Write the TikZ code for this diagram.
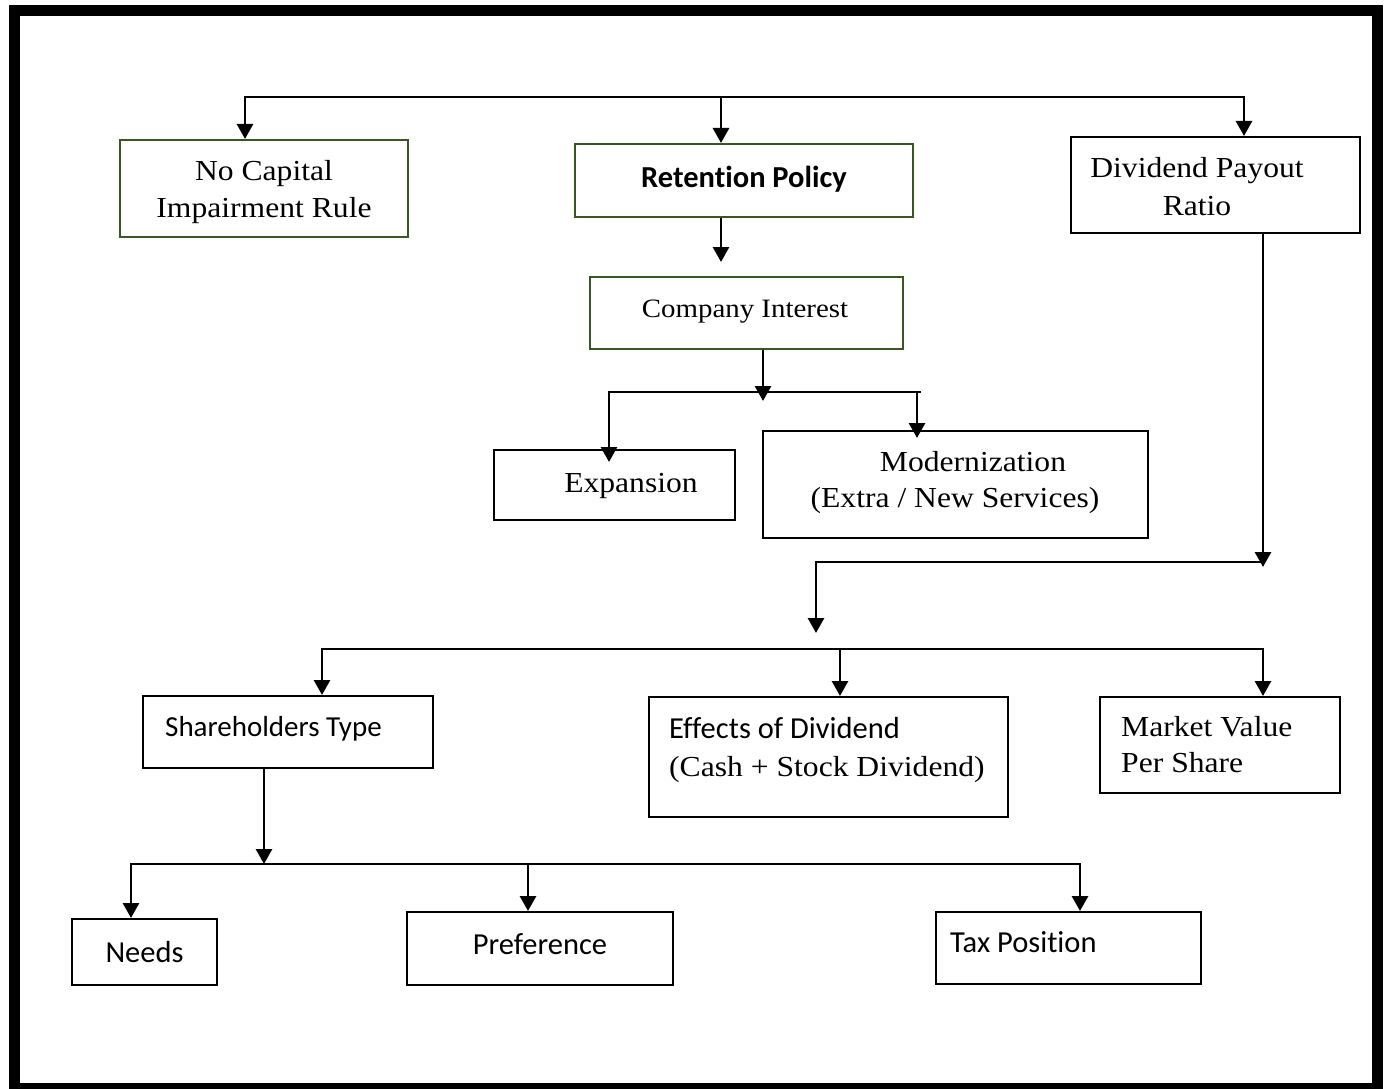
\documentclass[tikz,border=0pt]{standalone}
\usepackage{fontspec}
\newfontfamily\timesf[FakeStretch=1.09]{Liberation Serif}
\newfontfamily\calibri[Ligatures=NoCommon]{Carlito}
\usetikzlibrary{arrows.meta}
\definecolor{boxgreen}{RGB}{56,87,35}
\tikzset{
  box/.style={draw=black, line width=2pt, inner sep=0pt},
  gbox/.style={box, draw=boxgreen},
  conn/.style={line width=2.9pt},
  arr/.style={conn, -{Triangle[width=16pt,length=15pt]}},
  serif/.style={font=\timesf\fontsize{29}{38}\selectfont, inner sep=0pt},
  sans/.style={font=\calibri\fontsize{30.5}{38}\selectfont, inner sep=0pt},
}
\begin{document}
\begin{tikzpicture}[x=1pt,y=-1pt]
\useasboundingbox (0,0) rectangle (1390,1089);
\draw[line width=11pt] (14,10.5) rectangle (1377.5,1088.5);

% boxes (two-line texts are anchored at the baseline of their last line)
\node[gbox, minimum width=288pt, minimum height=97pt] (ncap) at (264,188.5) {};
\node[serif, anchor=base, align=center] (ncapT) at (264,218) {No Capital\\Impairment Rule};
\node[gbox, minimum width=338pt, minimum height=73pt] (ret) at (744,180.5) {};
\node[sans, anchor=base] (retT) at (744,188) {\bfseries Retention Policy};
\node[box, minimum width=289pt, minimum height=96pt] (dpr) at (1215.5,185) {};
\node[serif, anchor=base, align=center] (dprT) at (1197,215) {Dividend Payout\\Ratio};
\node[gbox, minimum width=313pt, minimum height=72pt] (ci) at (746.5,313) {};
\node[serif, font=\timesf\fontsize{26.5}{34}\selectfont, anchor=base] (ciT) at (745,317) {Company Interest};
\node[box, minimum width=241pt, minimum height=70pt] (exp) at (614.5,485) {};
\node[serif, anchor=base] (expT) at (631,492) {Expansion};
\node[box, minimum width=385pt, minimum height=107pt] (mod) at (955.5,484.5) {};
\node[serif, font=\timesf\fontsize{29}{36}\selectfont, anchor=base, align=center] (modT) at (964,507) {\hspace*{18pt}Modernization\\(Extra / New Services)\hspace*{18pt}};
\node[box, minimum width=290pt, minimum height=72pt] (sh) at (288,732) {};
\node[sans, font=\calibri\fontsize{29}{38}\selectfont, anchor=base west] (shT) at (165,736) {Shareholders Type};
\node[box, minimum width=359pt, minimum height=120pt] (eff) at (828.5,757) {};
\node[sans, anchor=base west, align=left] (effT) at (669,776) {Effects of Dividend\\{\timesf\fontsize{29}{38}\selectfont (Cash + Stock Dividend)}};
\node[box, minimum width=240pt, minimum height=96pt] (mv) at (1220,745) {};
\node[serif, font=\timesf\fontsize{29}{36}\selectfont, anchor=base west, align=left] (mvT) at (1121,772) {Market Value\\Per Share};
\node[box, minimum width=145pt, minimum height=66pt] (needs) at (144.5,952) {};
\node[sans, anchor=base] (needsT) at (144.5,962) {Needs};
\node[box, minimum width=266pt, minimum height=73pt] (pref) at (540,948.5) {};
\node[sans, anchor=base] (prefT) at (540,954) {Preference};
\node[box, minimum width=265pt, minimum height=72pt] (tax) at (1068.5,948) {};
\node[sans, anchor=base west] (taxT) at (950,952) {Tax Position};

% top bus
\coordinate (t1) at (245,97);
\coordinate (t2) at (721,97);
\coordinate (t3) at (1244,97);
\draw[arr] (t2) -- (t1) -- (t1 |- ncap.north);
\draw[arr] (t2) -- (t3) -- (t3 |- dpr.north);
\draw[arr] (t2) -- (t2 |- ret.north);

% retention -> company interest
\coordinate (rc) at (721,0);
\draw[arr, shorten >=14pt] (ret.south -| rc) -- (ci.north -| rc);

% company interest -> expansion / modernization
\coordinate (c1) at (763,0);
\coordinate (b2m) at (763,401);
\draw[arr] (ci.south -| c1) -- (b2m);
\coordinate (b2l) at (609,392);
\coordinate (b2r) at (921,392);
\coordinate (b2a) at (917,392);
\draw[conn] (b2l) -- (b2r);
\draw[arr, shorten >=-13pt] (b2r) -- (b2l) -- (b2l |- exp.north);
\draw[arr, shorten >=-8pt] (b2a) -- (b2a |- mod.north);

% dividend payout ratio -> lower level
\coordinate (d1) at (1263,0);
\coordinate (d2) at (1263,567);
\draw[arr] (dpr.south -| d1) -- (d2);
\coordinate (h1) at (1263,562);
\coordinate (h2) at (816,562);
\coordinate (h3) at (816,633);
\draw[arr] (h1) -- (h2) -- (h3);

% third bus
\coordinate (b3l) at (322,649);
\coordinate (b3m) at (840,649);
\coordinate (b3r) at (1263,649);
\draw[arr] (b3m) -- (b3l) -- (b3l |- sh.north);
\draw[arr] (b3m) -- (b3r) -- (b3r |- mv.north);
\draw[arr] (b3m) -- (b3m |- eff.north);

% shareholders -> needs, preference, tax
\coordinate (s1) at (264,0);
\coordinate (b4m) at (264,864);
\draw[arr] (sh.south -| s1) -- (b4m);
\coordinate (b4l) at (131,864);
\coordinate (b4p) at (528,864);
\coordinate (b4r) at (1080,864);
\draw[arr] (b4p) -- (b4l) -- (b4l |- needs.north);
\draw[arr] (b4p) -- (b4r) -- (b4r |- tax.north);
\draw[arr] (b4p) -- (b4p |- pref.north);
\end{tikzpicture}
\end{document}
